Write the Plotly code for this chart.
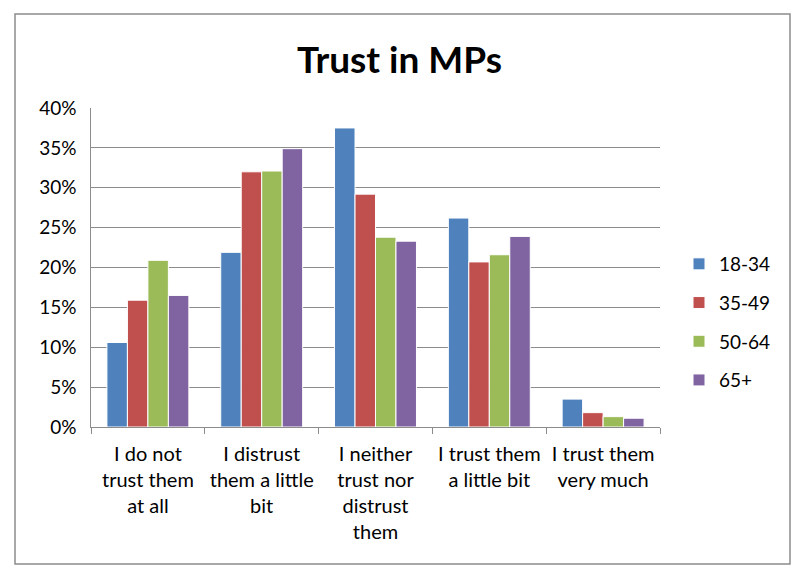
import plotly.graph_objects as go

categories = [
    "I do not<br>trust them<br>at all",
    "I distrust<br>them a little<br>bit",
    "I neither<br>trust nor<br>distrust<br>them",
    "I trust them<br>a little bit",
    "I trust them<br>very much",
]
age_groups = ["18-34", "35-49", "50-64", "65+"]
share_18_34 = [0.106, 0.219, 0.375, 0.262, 0.035]
share_35_49 = [0.159, 0.320, 0.292, 0.207, 0.018]
share_50_64 = [0.209, 0.321, 0.238, 0.216, 0.013]
share_65_plus = [0.165, 0.349, 0.233, 0.239, 0.011]

colors = ["#4F81BD", "#C0504D", "#9BBB59", "#8064A2"]
series = [share_18_34, share_35_49, share_50_64, share_65_plus]

fig = go.Figure()
for name, vals, col in zip(age_groups, series, colors):
    fig.add_trace(go.Bar(x=categories, y=vals, name=name, legendgroup=name,
                         marker=dict(color=col, line=dict(color="white", width=1))))

W, H = 799, 576
ml, mr, mt, mb = 91, 139, 108, 149
pw, ph = W - ml - mr, H - mt - mb

def px_x(v):
    return (v - ml) / pw

def px_y(v):
    return (H - mb - v) / ph

fig.update_layout(
    width=W, height=H,
    margin=dict(l=ml, r=mr, t=mt, b=mb),
    plot_bgcolor="white",
    paper_bgcolor="white",
    font=dict(family="Lato, Open Sans, sans-serif", size=19, color="#000000"),
    title=dict(text="<b>Trust in MPs</b>", x=0.5, xref="container", xanchor="center",
               y=1 - 60 / H, yref="container", yanchor="middle",
               font=dict(size=37, color="#000000")),
    barmode="group",
    bargap=0.28,
    bargroupgap=0.0,
    legend=dict(x=px_x(679), y=px_y(322), xanchor="left", yanchor="middle",
                font=dict(size=19), tracegroupgap=11, itemwidth=30),
    xaxis=dict(showline=True, linecolor="#8c8c8c", linewidth=1,
               ticks="outside", tickson="boundaries", ticklen=6, tickcolor="#8c8c8c",
               tickfont=dict(size=20), ticklabelstandoff=9, showgrid=False),
    yaxis=dict(range=[0, 0.4], dtick=0.05, tickformat=".0%",
               showline=True, linecolor="#8c8c8c", linewidth=1,
               gridcolor="#8c8c8c", gridwidth=1, zeroline=False,
               tickfont=dict(size=19), ticksuffix="  "),
    shapes=[dict(type="rect", xref="paper", yref="paper",
                 x0=px_x(15), x1=px_x(790), y0=px_y(564), y1=px_y(14),
                 line=dict(color="#8c8c8c", width=1.5), layer="below")],
)

fig.write_html("out.html", config={"displayModeBar": False},
               post_script="document.body.style.margin='0';")
